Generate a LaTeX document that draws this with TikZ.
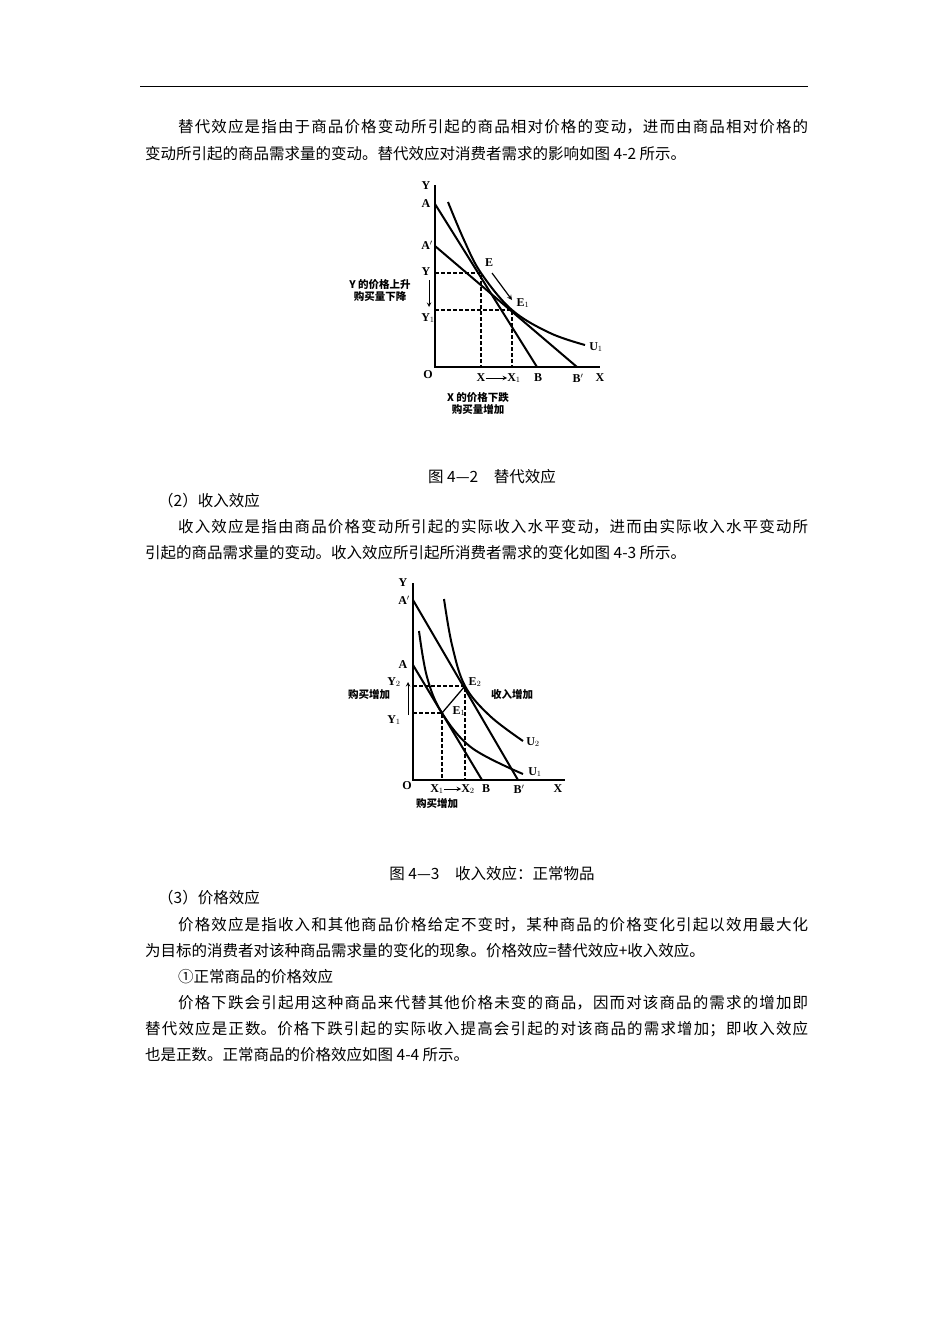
\documentclass[tikz,border=0pt]{standalone}
\usepackage{fontspec}
\setmainfont{Liberation Serif}
\newfontfamily\cjk{Noto Sans CJK SC}
\XeTeXlinebreaklocale "zh"
\XeTeXlinebreakskip=0pt plus 3pt
\newcommand{\jline}[2]{\parbox{#1pt}{\parfillskip=0pt\noindent\cjk #2}}
\begin{document}
\begin{tikzpicture}[x=1pt,y=-1pt,
  body/.style={anchor=west,inner sep=0,font=\fontsize{15.5}{16}\selectfont\cjk},
  lab/.style={inner sep=0,font=\fontsize{12}{12}\selectfont\bfseries},
  clab/.style={inner sep=0,font=\fontsize{10.5}{12}\selectfont\bfseries\cjk,align=center},
  ax/.style={line width=1.8pt},
  bl/.style={line width=2pt},
  dsh/.style={line width=1.1pt,dash pattern=on 4pt off 2pt}]
\fill[white] (0,0) rectangle (950,1344);
\draw[line width=0.6pt] (140,86) -- (808,86);
% text
\node[body] (t1) at (178,127) {\jline{630}{替代效应是指由于商品价格变动所引起的商品相对价格的变动，进而由商品相对价格的}};
\node[body] (t2) at (145,154) {变动所引起的商品需求量的变动。替代效应对消费者需求的影响如图 4-2 所示。};
\node[body,anchor=center] (c1) at (492,477) {图 4—2\quad 替代效应};
\node[body] (t3) at (158,501) {（2）收入效应};
\node[body] (t4) at (178,527) {\jline{630}{收入效应是指由商品价格变动所引起的实际收入水平变动，进而由实际收入水平变动所}};
\node[body] (t5) at (145,553) {引起的商品需求量的变动。收入效应所引起所消费者需求的变化如图 4-3 所示。};
\node[body,anchor=center] (c2) at (492,874) {图 4—3\quad 收入效应：正常物品};
\node[body] (t6) at (158,898) {（3）价格效应};
\node[body] (t7) at (178,925) {\jline{630}{价格效应是指收入和其他商品价格给定不变时，某种商品的价格变化引起以效用最大化}};
\node[body] (t8) at (145,951) {为目标的消费者对该种商品需求量的变化的现象。价格效应=替代效应+收入效应。};
\node[body] (t9) at (178,977) {①正常商品的价格效应};
\node[body] (t10) at (178,1003) {\jline{630}{价格下跌会引起用这种商品来代替其他价格未变的商品，因而对该商品的需求的增加即}};
\node[body] (t11) at (145,1029) {\jline{663}{替代效应是正数。价格下跌引起的实际收入提高会引起的对该商品的需求增加；即收入效应}};
\node[body] (t12) at (145,1055) {也是正数。正常商品的价格效应如图 4-4 所示。};
% ===== Figure 4-2 =====
\coordinate (O1) at (435,367);
\coordinate (Yt1) at (435,185);
\coordinate (Xe1) at (600,367);
\coordinate (A1) at (435,204);
\coordinate (Ap1) at (435,246);
\coordinate (B1) at (537,367);
\coordinate (Bp1) at (577,367);
\coordinate (E) at (481,273);
\coordinate (E1) at (512,310);
\coordinate (yE) at (435,273);
\coordinate (xE) at (481,367);
\coordinate (yE1) at (435,310);
\coordinate (xE1) at (512,367);
\draw[ax] (Yt1) -- (O1) -- (Xe1);
\draw[bl] (A1) -- (B1);
\draw[bl] (Ap1) -- (Bp1);
\draw[bl] plot[smooth,tension=0.6] coordinates {(448,202) (464,240) (481,273) (512,310) (550,333) (585,345)};
\draw[dsh] (yE) -- (E) -- (xE);
\draw[dsh] (yE1) -- (E1) -- (xE1);
\coordinate (ar1a) at (492,273); \coordinate (ar1b) at (512,300);
\draw[line width=1.2pt,-stealth] (ar1a) -- (ar1b);
\coordinate (ar2a) at (429,280); \coordinate (ar2b) at (429,307);
\draw[line width=1pt,-stealth] (ar2a) -- (ar2b);
\node[lab] (lY) at (426,186) {Y};
\node[lab] (lA) at (426,204) {A};
\node[lab] (lAp) at (427,245) {A$'$};
\node[lab] (lYy) at (426,272) {Y};
\node[lab] (lY1) at (428,318) {Y$_1$};
\node[lab] (lO) at (428,375) {O};
\node[lab] (lX) at (481,378) {X};
\node[lab] (lX1) at (514,378) {X$_1$};
\draw[line width=1pt,-stealth] (lX) -- (lX1);
\node[lab] (lB) at (538,378) {B};
\node[lab] (lBp) at (578,378) {B$'$};
\node[lab] (lXa) at (600,378) {X};
\node[lab] (lE) at (489,263) {E};
\node[lab] (lE1) at (523,303) {E$_1$};
\node[lab] (lU1) at (596,347) {U$_1$};
\node[clab] (ct1) at (380,290) {Y 的价格上升\\购买量下降};
\node[clab] (ct2) at (478,403) {X 的价格下跌\\购买量增加};
% ===== Figure 4-3 =====
\coordinate (O2) at (413,780);
\coordinate (Yt2) at (413,583);
\coordinate (Xe2) at (565,780);
\coordinate (Ap2) at (413,600);
\coordinate (A2) at (413,665);
\coordinate (B2) at (482,780);
\coordinate (Bp2) at (518,780);
\coordinate (F2) at (465,686);
\coordinate (F1) at (442,713);
\coordinate (yF2) at (413,686);
\coordinate (xF2) at (465,780);
\coordinate (yF1) at (413,713);
\coordinate (xF1) at (442,780);
\draw[ax] (Yt2) -- (O2) -- (Xe2);
\draw[bl] (Ap2) -- (Bp2);
\draw[bl] (A2) -- (B2);
\draw[bl] plot[smooth,tension=0.6] coordinates {(444,599) (452,645) (465,686) (490,716) (523,741)};
\draw[bl] plot[smooth,tension=0.6] coordinates {(419,631) (427,677) (442,713) (472,748) (523,774)};
\draw[line width=1.3pt] (F1) -- (F2);
\draw[dsh] (yF2) -- (F2) -- (xF2);
\draw[dsh] (yF1) -- (F1) -- (xF1);
\coordinate (ar3a) at (408,715); \coordinate (ar3b) at (408,682);
\draw[line width=1pt,-stealth] (ar3a) -- (ar3b);
\node[lab] (mY) at (403,583) {Y};
\node[lab] (mAp) at (404,600) {A$'$};
\node[lab] (mA) at (403,665) {A};
\node[lab] (mY2) at (394,682) {Y$_2$};
\node[lab] (mY1) at (394,720) {Y$_1$};
\node[lab] (mO) at (407,786) {O};
\node[lab] (mX1) at (437,789) {X$_1$};
\node[lab] (mX2) at (468,789) {X$_2$};
\draw[line width=1pt,-stealth] (mX1) -- (mX2);
\node[lab] (mB) at (486,789) {B};
\node[lab] (mBp) at (519,789) {B$'$};
\node[lab] (mX) at (558,789) {X};
\node[lab] (mE2) at (475,682) {E$_2$};
\node[lab] (mE1) at (459,711) {E$_1$};
\node[lab] (mU2) at (533,742) {U$_2$};
\node[lab] (mU1) at (535,772) {U$_1$};
\node[clab] (dt1) at (369,694) {购买增加};
\node[clab] (dt2) at (512,695) {收入增加};
\node[clab] (dt3) at (437,803) {购买增加};
\end{tikzpicture}
\end{document}
